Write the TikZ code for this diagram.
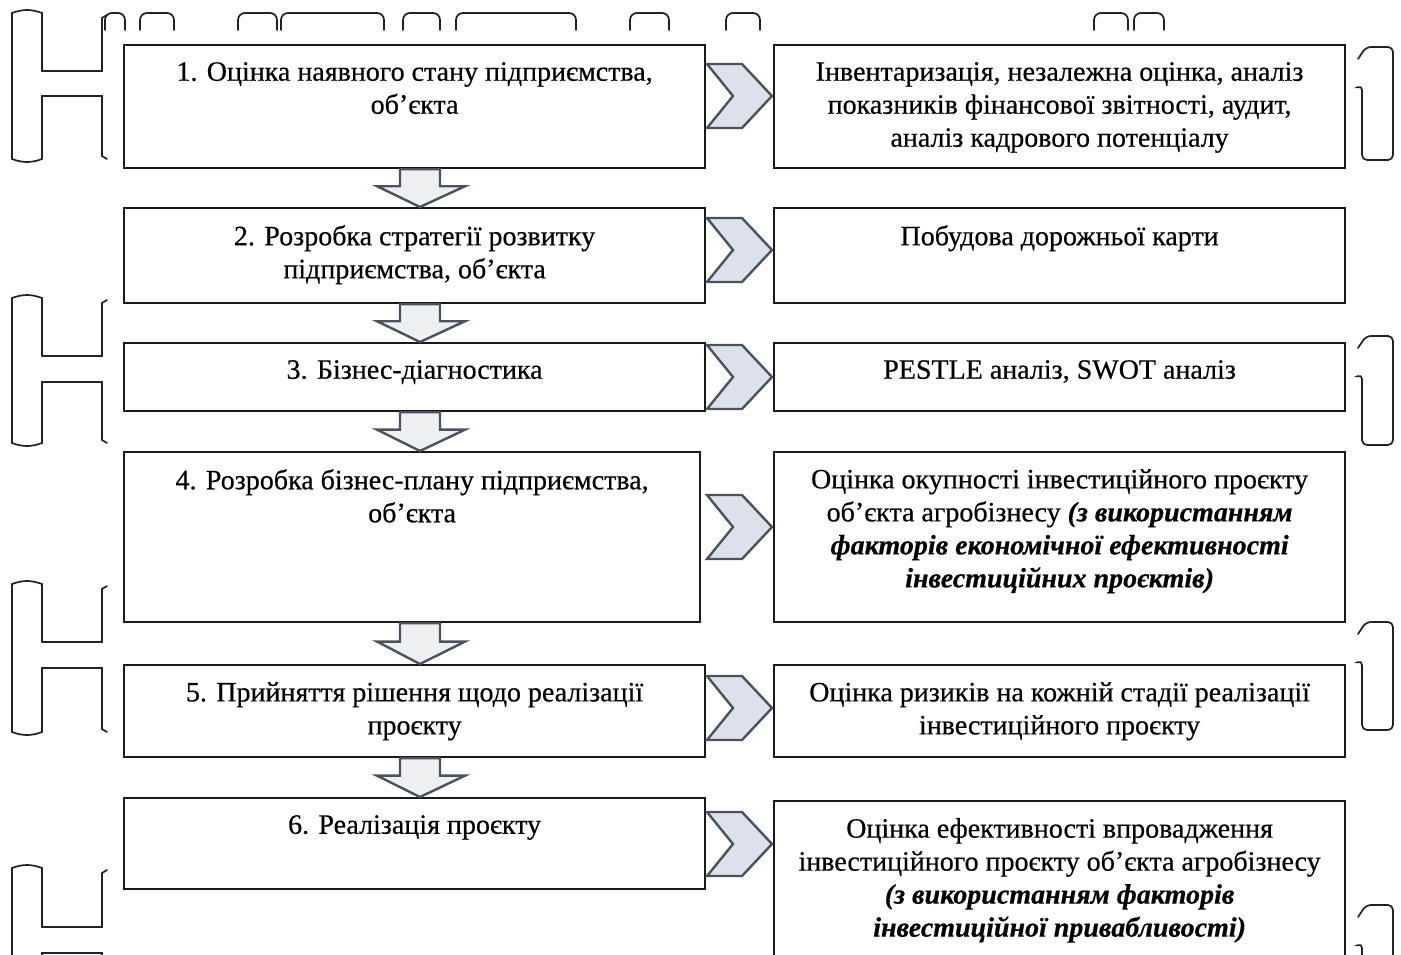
\documentclass[tikz,border=0pt]{standalone}
\usepackage{fontspec}
\setmainfont{Liberation Serif}
\newfontfamily\stagefont{Liberation Serif}[FakeBold=0.5]
\usetikzlibrary{calc}
\definecolor{chevfill}{HTML}{DCE1EB}
\definecolor{chevline}{HTML}{4B525C}
\definecolor{arrfill}{HTML}{EEEFF1}
\definecolor{scanline}{HTML}{222222}
\tikzset{
  stage/.style={draw=black!90, line width=2.2pt, inner sep=0pt, anchor=north west},
  stagetext/.style={anchor=north, align=center, inner sep=0pt, font=\stagefont\fontsize{28}{33}\selectfont},
  chev/.style={fill=chevfill, draw=chevline, line width=2.4pt, line join=miter},
  downarr/.style={fill=arrfill, draw=chevline, line width=2.4pt, line join=miter},
  scan/.style={draw=scanline, line width=1.7pt},
}
\newcommand{\bi}[1]{\textbf{\textit{#1}}}
\begin{document}
\begin{tikzpicture}[x=1pt, y=-1pt, line cap=round]
\useasboundingbox (0,0) rectangle (1401,954);
\clip (0,0) rectangle (1401,954);
\foreach \t/\c/\d/\b in {13/71/96/159, 298/356/382/443, 584/642/668/732, 868/927/953/1010}{
  \draw[scan] (42,\c) -- (42,\t) to[bend right=20] (12,\t) -- (12,\b) to[bend right=20] (42,\b) -- (42,\d) -- (102,\d) -- (102,\b-3) -- (107,\b);
  \draw[scan] (42,\c) -- (102,\c) -- (102,\t+5) -- (107,\t+2);
}
\foreach \t/\b in {47/160, 336/445, 622/730, 905/1010}
  \draw[scan, rounded corners=5pt] (1358,\t+12) -- (1366,\t) -- (1393,\t) -- (1393,\b) -- (1362,\b) -- (1362,\t+38) -- (1358,\t+40);
\foreach \a/\b in {105/125, 140/174, 238/277, 281/384, 403/440, 456/576, 630/669, 726/760, 1094/1128, 1134/1164}
  \draw[scan, rounded corners=7pt] (\a,30) -- (\a,13) -- (\b,13) -- (\b,30);
\foreach \n/\x/\y/\w/\h in {b1/123/44/581/123, b2/123/207/581/95, b3/123/342/581/68, b4/123/451/576/170, b5/123/664/581/92, b6/123/797/581/91,
  r1/773/44/571/123, r2/773/207/571/95, r3/773/342/571/68, r4/773/451/571/170, r5/773/664/571/92, r6/773/800/571/200}
  \node[stage, minimum width=\w, minimum height=\h] (\n) at (\x,\y) {};
\foreach \u/\v in {b1/b2, b2/b3, b3/b4, b4/b5, b5/b6}
  \draw[downarr] let \p1=(\u.south), \p2=(\v.north), \p3=($(\p1)!.45!(\p2)$) in
    (400pt,\y1) -- (400pt,\y3) -- (377pt,\y3) -- (420pt,\y2) -- (465pt,\y3) -- (440pt,\y3) -- (440pt,\y1) -- cycle;
\foreach \y in {96,250,377,527,708,844}
  \draw[chev] (707,\y-32) -- (742,\y-32) -- (772,\y) -- (742,\y+32) -- (707,\y+32) -- (733,\y) -- cycle;
\node[stagetext] (t1) at ($(b1.north)+(0,18)$) {1. Оцінка наявного стану підприємства,\\ об’єкта};
\node[stagetext] (t2) at ($(b2.north)+(0,18)$) {2. Розробка стратегії розвитку\\ підприємства, об’єкта};
\node[stagetext] (t3) at ($(b3.north)+(0,18)$) {3. Бізнес-діагностика};
\node[stagetext] (t4) at ($(b4.north)+(0,18)$) {4. Розробка бізнес-плану підприємства,\\ об’єкта};
\node[stagetext] (t5) at ($(b5.north)+(0,18)$) {5. Прийняття рішення щодо реалізації\\ проєкту};
\node[stagetext] (t6) at ($(b6.north)+(0,18)$) {6. Реалізація проєкту};
\node[stagetext] (u1) at ($(r1.north)+(0,18)$) {Інвентаризація, незалежна оцінка, аналіз\\ показників фінансової звітності, аудит,\\ аналіз кадрового потенціалу};
\node[stagetext] (u2) at ($(r2.north)+(0,18)$) {Побудова дорожньої карти};
\node[stagetext] (u3) at ($(r3.north)+(0,18)$) {PESTLE аналіз, SWOT аналіз};
\node[stagetext] (u4) at ($(r4.north)+(0,18)$) {Оцінка окупності інвестиційного проєкту\\ об’єкта агробізнесу \bi{(з використанням}\\ \bi{факторів економічної ефективності}\\ \bi{інвестиційних проєктів)}};
\node[stagetext] (u5) at ($(r5.north)+(0,18)$) {Оцінка ризиків на кожній стадії реалізації\\ інвестиційного проєкту};
\node[stagetext] (u6) at ($(r6.north)+(0,18)$) {Оцінка ефективності впровадження\\ інвестиційного проєкту об’єкта агробізнесу\\ \bi{(з використанням факторів}\\ \bi{інвестиційної привабливості)}};
\end{tikzpicture}
\end{document}
